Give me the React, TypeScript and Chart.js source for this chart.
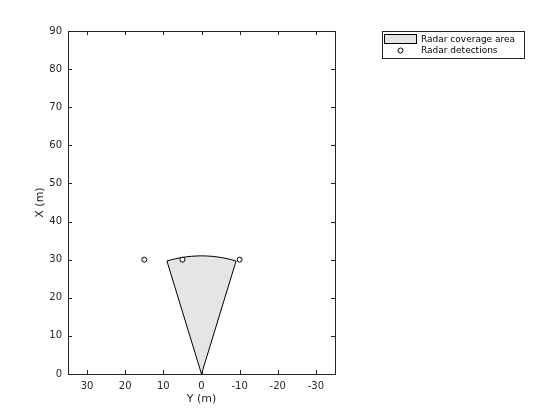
import { useEffect, useRef } from "react";
import { Chart, registerables } from "chart.js";

Chart.register(...registerables);

// Sensor coverage parameters
const sensorRange = 31;
const fovHalfDeg = 17;
const arcAnglesDeg = [-17, -14, -11, -8, -5, -2, 0, 2, 5, 8, 11, 14, 17];

// Detections (lateral Y, longitudinal X)
const detectionY = [15, 5, -10];
const detectionX = [30, 30, 30];

const xTicks = [30, 20, 10, 0, -10, -20, -30];
const yTicks = [0, 10, 20, 30, 40, 50, 60, 70, 80, 90];

const legendLabels = ["Radar coverage area", "Radar detections"];
const xTitle = "Y (m)";
const yTitle = "X (m)";

const FONT = "'DejaVu Sans', sans-serif";
const TEXT = "#262626";
const FILL = "#e5e5e5";

export default function App() {
  const ref = useRef<HTMLCanvasElement | null>(null);

  useEffect(() => {
    if (!ref.current) return;
    const sector: { x: number; y: number }[] = [{ x: 0, y: 0 }];
    arcAnglesDeg.forEach((a) => {
      const r = (Math.max(-fovHalfDeg, Math.min(fovHalfDeg, a)) * Math.PI) / 180;
      sector.push({ x: sensorRange * Math.sin(r), y: sensorRange * Math.cos(r) });
    });
    sector.push({ x: 0, y: 0 });

    const frame = {
      id: "frame",
      afterDraw(chart: any) {
        const { ctx, chartArea: a, scales } = chart;
        ctx.save();
        ctx.strokeStyle = TEXT;
        ctx.lineWidth = 1;
        ctx.strokeRect(Math.round(a.left) + 0.5, Math.round(a.top) + 0.5, Math.round(a.right - a.left), Math.round(a.bottom - a.top));
        const tl = 4;
        ctx.beginPath();
        xTicks.forEach((v) => {
          const px = Math.round(scales.x.getPixelForValue(v)) + 0.5;
          ctx.moveTo(px, a.bottom);
          ctx.lineTo(px, a.bottom - tl);
          ctx.moveTo(px, a.top);
          ctx.lineTo(px, a.top + tl);
        });
        yTicks.forEach((v) => {
          const py = Math.round(scales.y.getPixelForValue(v)) + 0.5;
          ctx.moveTo(a.left, py);
          ctx.lineTo(a.left + tl, py);
          ctx.moveTo(a.right, py);
          ctx.lineTo(a.right - tl, py);
        });
        ctx.stroke();

        // axis titles
        ctx.fillStyle = TEXT;
        ctx.font = `11px ${FONT}`;
        ctx.textAlign = "center";
        ctx.textBaseline = "middle";
        ctx.fillText(xTitle, (a.left + a.right) / 2, 399);
        ctx.save();
        ctx.translate(40, (a.top + a.bottom) / 2);
        ctx.rotate(-Math.PI / 2);
        ctx.fillText(yTitle, 0, 0);
        ctx.restore();

        // legend
        const lx = 382.5, ly = 31.5, lw = 142, lh = 27;
        ctx.fillStyle = "#ffffff";
        ctx.fillRect(lx, ly, lw, lh);
        ctx.strokeStyle = TEXT;
        ctx.strokeRect(lx, ly, lw, lh);
        ctx.fillStyle = FILL;
        ctx.fillRect(384.5, 34.5, 32, 9);
        ctx.strokeStyle = "#000";
        ctx.strokeRect(384.5, 34.5, 32, 9);
        ctx.beginPath();
        ctx.arc(400.5, 50.5, 2.5, 0, Math.PI * 2);
        ctx.fillStyle = "#fff";
        ctx.fill();
        ctx.stroke();
        ctx.fillStyle = "#000";
        ctx.font = `9px ${FONT}`;
        ctx.textAlign = "left";
        ctx.textBaseline = "middle";
        ctx.fillText(legendLabels[0], 421, 39.5);
        ctx.fillText(legendLabels[1], 421, 51);
        ctx.restore();
      },
    };

    const chart = new Chart(ref.current, {
      type: "scatter",
      data: {
        datasets: [
          {
            label: legendLabels[0],
            data: sector,
            showLine: true,
            fill: "shape",
            backgroundColor: FILL,
            borderColor: "#000",
            borderWidth: 1,
            pointRadius: 0,
            tension: 0,
            order: 2,
          },
          {
            label: legendLabels[1],
            data: detectionY.map((y, i) => ({ x: y, y: detectionX[i] })),
            showLine: false,
            pointStyle: "circle",
            pointRadius: 2.5,
            backgroundColor: "#fff",
            borderColor: "#000",
            borderWidth: 1,
            order: 1,
          },
        ],
      },
      options: {
        animation: false,
        responsive: false,
        layout: { padding: { top: 31, right: 225, left: 0, bottom: 0 } },
        plugins: { legend: { display: false }, tooltip: { enabled: false } },
        scales: {
          x: {
            type: "linear",
            min: -35,
            max: 35,
            reverse: true,
            afterFit: (s: any) => {
              s.height = 46;
            },
            afterBuildTicks: (s: any) => {
              s.ticks = xTicks.map((v) => ({ value: v }));
            },
            grid: { display: false, drawTicks: false },
            border: { display: false },
            ticks: { color: TEXT, font: { family: FONT, size: 10 }, padding: 6, maxRotation: 0 },
          },
          y: {
            type: "linear",
            min: 0,
            max: 90,
            afterFit: (s: any) => {
              s.width = 68;
            },
            afterBuildTicks: (s: any) => {
              s.ticks = yTicks.map((v) => ({ value: v }));
            },
            grid: { display: false, drawTicks: false },
            border: { display: false },
            ticks: { color: TEXT, font: { family: FONT, size: 10 }, padding: 6 },
          },
        },
      },
      plugins: [frame],
    });
    return () => chart.destroy();
  }, []);

  return (
    <div style={{ position: "fixed", left: 0, top: 0, width: 560, height: 420, background: "#fff" }}>
      <canvas ref={ref} width={560} height={420} style={{ width: 560, height: 420 }} />
    </div>
  );
}
